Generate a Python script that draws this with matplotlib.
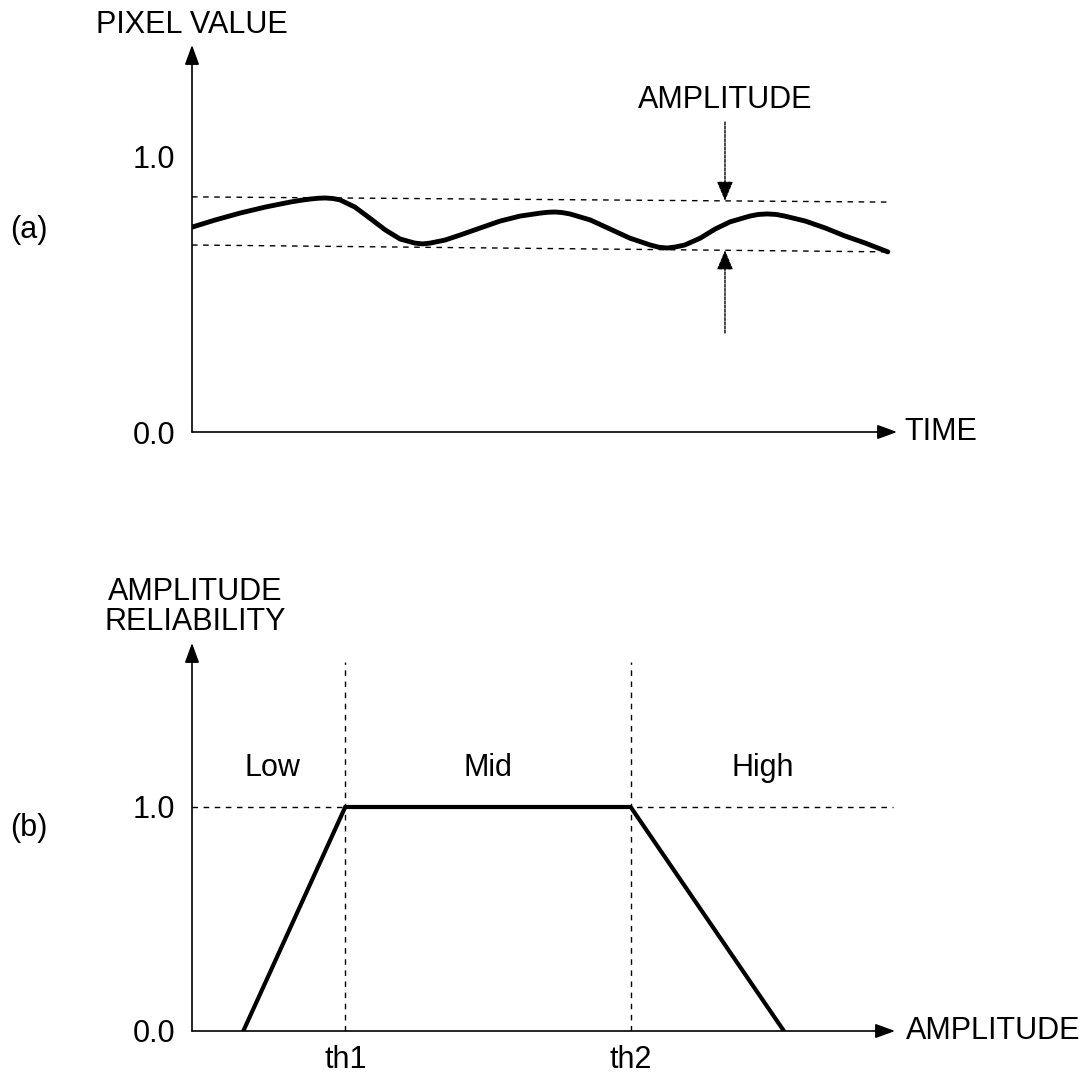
import numpy as np
import matplotlib.pyplot as plt

plt.rcParams["font.family"] = ["Liberation Sans", "DejaVu Sans"]
plt.rcParams["font.size"] = 22

# (a) pixel value over time
time = [0.0, 0.33, 0.68, 1.04, 1.39, 1.53, 1.67, 1.79, 1.89, 2.0, 2.10, 2.31,
        2.52, 2.74, 2.95, 3.16, 3.27, 3.38, 3.59, 3.80, 4.09, 4.37, 4.65, 4.94,
        5.05, 5.15, 5.25, 5.36, 5.65, 5.93, 6.21, 6.50, 6.62, 6.74, 6.86, 6.99,
        7.21, 7.42, 7.63, 7.91, 8.03, 8.16, 8.29, 8.41, 8.70, 8.98, 9.26, 9.55,
        9.87]
pixel = [0.745, 0.771, 0.796, 0.818, 0.836, 0.842, 0.847, 0.850, 0.851, 0.849,
         0.844, 0.818, 0.778, 0.735, 0.702, 0.687, 0.684, 0.687, 0.698, 0.716,
         0.742, 0.767, 0.785, 0.796, 0.799, 0.800, 0.798, 0.793, 0.771, 0.738,
         0.705, 0.680, 0.672, 0.669, 0.673, 0.680, 0.705, 0.738, 0.764, 0.785,
         0.791, 0.793, 0.791, 0.785, 0.767, 0.742, 0.713, 0.687, 0.655]
upper_env = [0.855, 0.836]
lower_env = [0.680, 0.655]
env_t = [0.0, 9.87]
amp_t = 7.56

# (b) reliability vs amplitude
th1, th2 = 2.18, 6.24
amp = [0.73, th1, th2, 8.42]
rel = [0.0, 1.0, 1.0, 0.0]

W, H = 1089, 1076


def place(x0, y0, x1, y1):
    # origin pixel (x0, y0), right end x1, top end y1
    return [x0 / W, 1 - y0 / H, (x1 - x0) / W, (y0 - y1) / H]


def axis_arrows(ax, xmax, ymax):
    head = dict(arrowstyle="-|>,head_length=0.6,head_width=0.22", color="black",
                lw=1.2, mutation_scale=20, shrinkA=0, shrinkB=0)
    ax.annotate("", xy=(xmax, 0), xytext=(0, 0), arrowprops=head,
                annotation_clip=False)
    ax.annotate("", xy=(0, ymax), xytext=(0, 0), arrowprops=head,
                annotation_clip=False)
    for s in ax.spines.values():
        s.set_visible(False)


fig = plt.figure(figsize=(10.89, 10.76), dpi=100)
dash = dict(color="black", lw=1, linestyle=(0, (4, 4)))

# ---- panel (a)
ax1 = fig.add_axes(place(192, 432, 897, 45))
ymax1 = 387 / 275
ax1.set_xlim(0, 10)
ax1.set_ylim(0, ymax1)
axis_arrows(ax1, 10, ymax1)
ax1.plot(time, pixel, color="black", lw=3.5, solid_capstyle="round",
         solid_joinstyle="round")
ax1.plot(env_t, upper_env, **dash)
ax1.plot(env_t, lower_env, **dash)
up_y = np.interp(amp_t, env_t, upper_env)
lo_y = np.interp(amp_t, env_t, lower_env)
small = dict(arrowstyle="-|>,head_length=0.6,head_width=0.25", color="black",
             lw=1, linestyle=(0, (2, 1)), mutation_scale=20, shrinkA=0, shrinkB=0)
ax1.annotate("", xy=(amp_t, up_y), xytext=(amp_t, 1.127), arrowprops=small)
ax1.annotate("", xy=(amp_t, lo_y), xytext=(amp_t, 0.36), arrowprops=small)
ax1.text(amp_t, 1.207, "AMPLITUDE", ha="center", va="center")
ax1.set_xticks([])
ax1.set_yticks([0, 1], ["0.0", "1.0"])
ax1.tick_params(length=0, pad=12)
fig.text(192 / W, 1 - 25 / H, "PIXEL VALUE", ha="center", va="center")
ax1.text(10.1, 0, "TIME", ha="left", va="center")
fig.text(10 / W, 1 - 230 / H, "(a)", ha="left", va="center")

# ---- panel (b)
ax2 = fig.add_axes(place(192, 1031, 895, 643))
ymax2 = 388 / 224
ax2.set_xlim(0, 10)
ax2.set_ylim(0, ymax2)
axis_arrows(ax2, 10, ymax2)
ax2.plot([0, 9.97], [1, 1], **dash)
ax2.plot([th1, th1], [0, 1.647], **dash)
ax2.plot([th2, th2], [0, 1.647], **dash)
ax2.plot(amp, rel, color="black", lw=3, solid_joinstyle="miter")
ax2.set_xticks([th1, th2], ["th1", "th2"])
ax2.set_yticks([0, 1], ["0.0", "1.0"])
ax2.tick_params(length=0, pad=12)
ax2.tick_params(axis="x", pad=10)
for x, lab in [(1.14, "Low"), (4.21, "Mid"), (8.12, "High")]:
    ax2.text(x, 1.174, lab, ha="center", va="center")
fig.text(195 / W, 1 - 607 / H, "AMPLITUDE\nRELIABILITY", ha="center",
         va="center", multialignment="center", linespacing=1.0)
ax2.text(10.15, 0, "AMPLITUDE", ha="left", va="center")
fig.text(10 / W, 1 - 828 / H, "(b)", ha="left", va="center")

fig.savefig("out.png", dpi=100, facecolor="white")
